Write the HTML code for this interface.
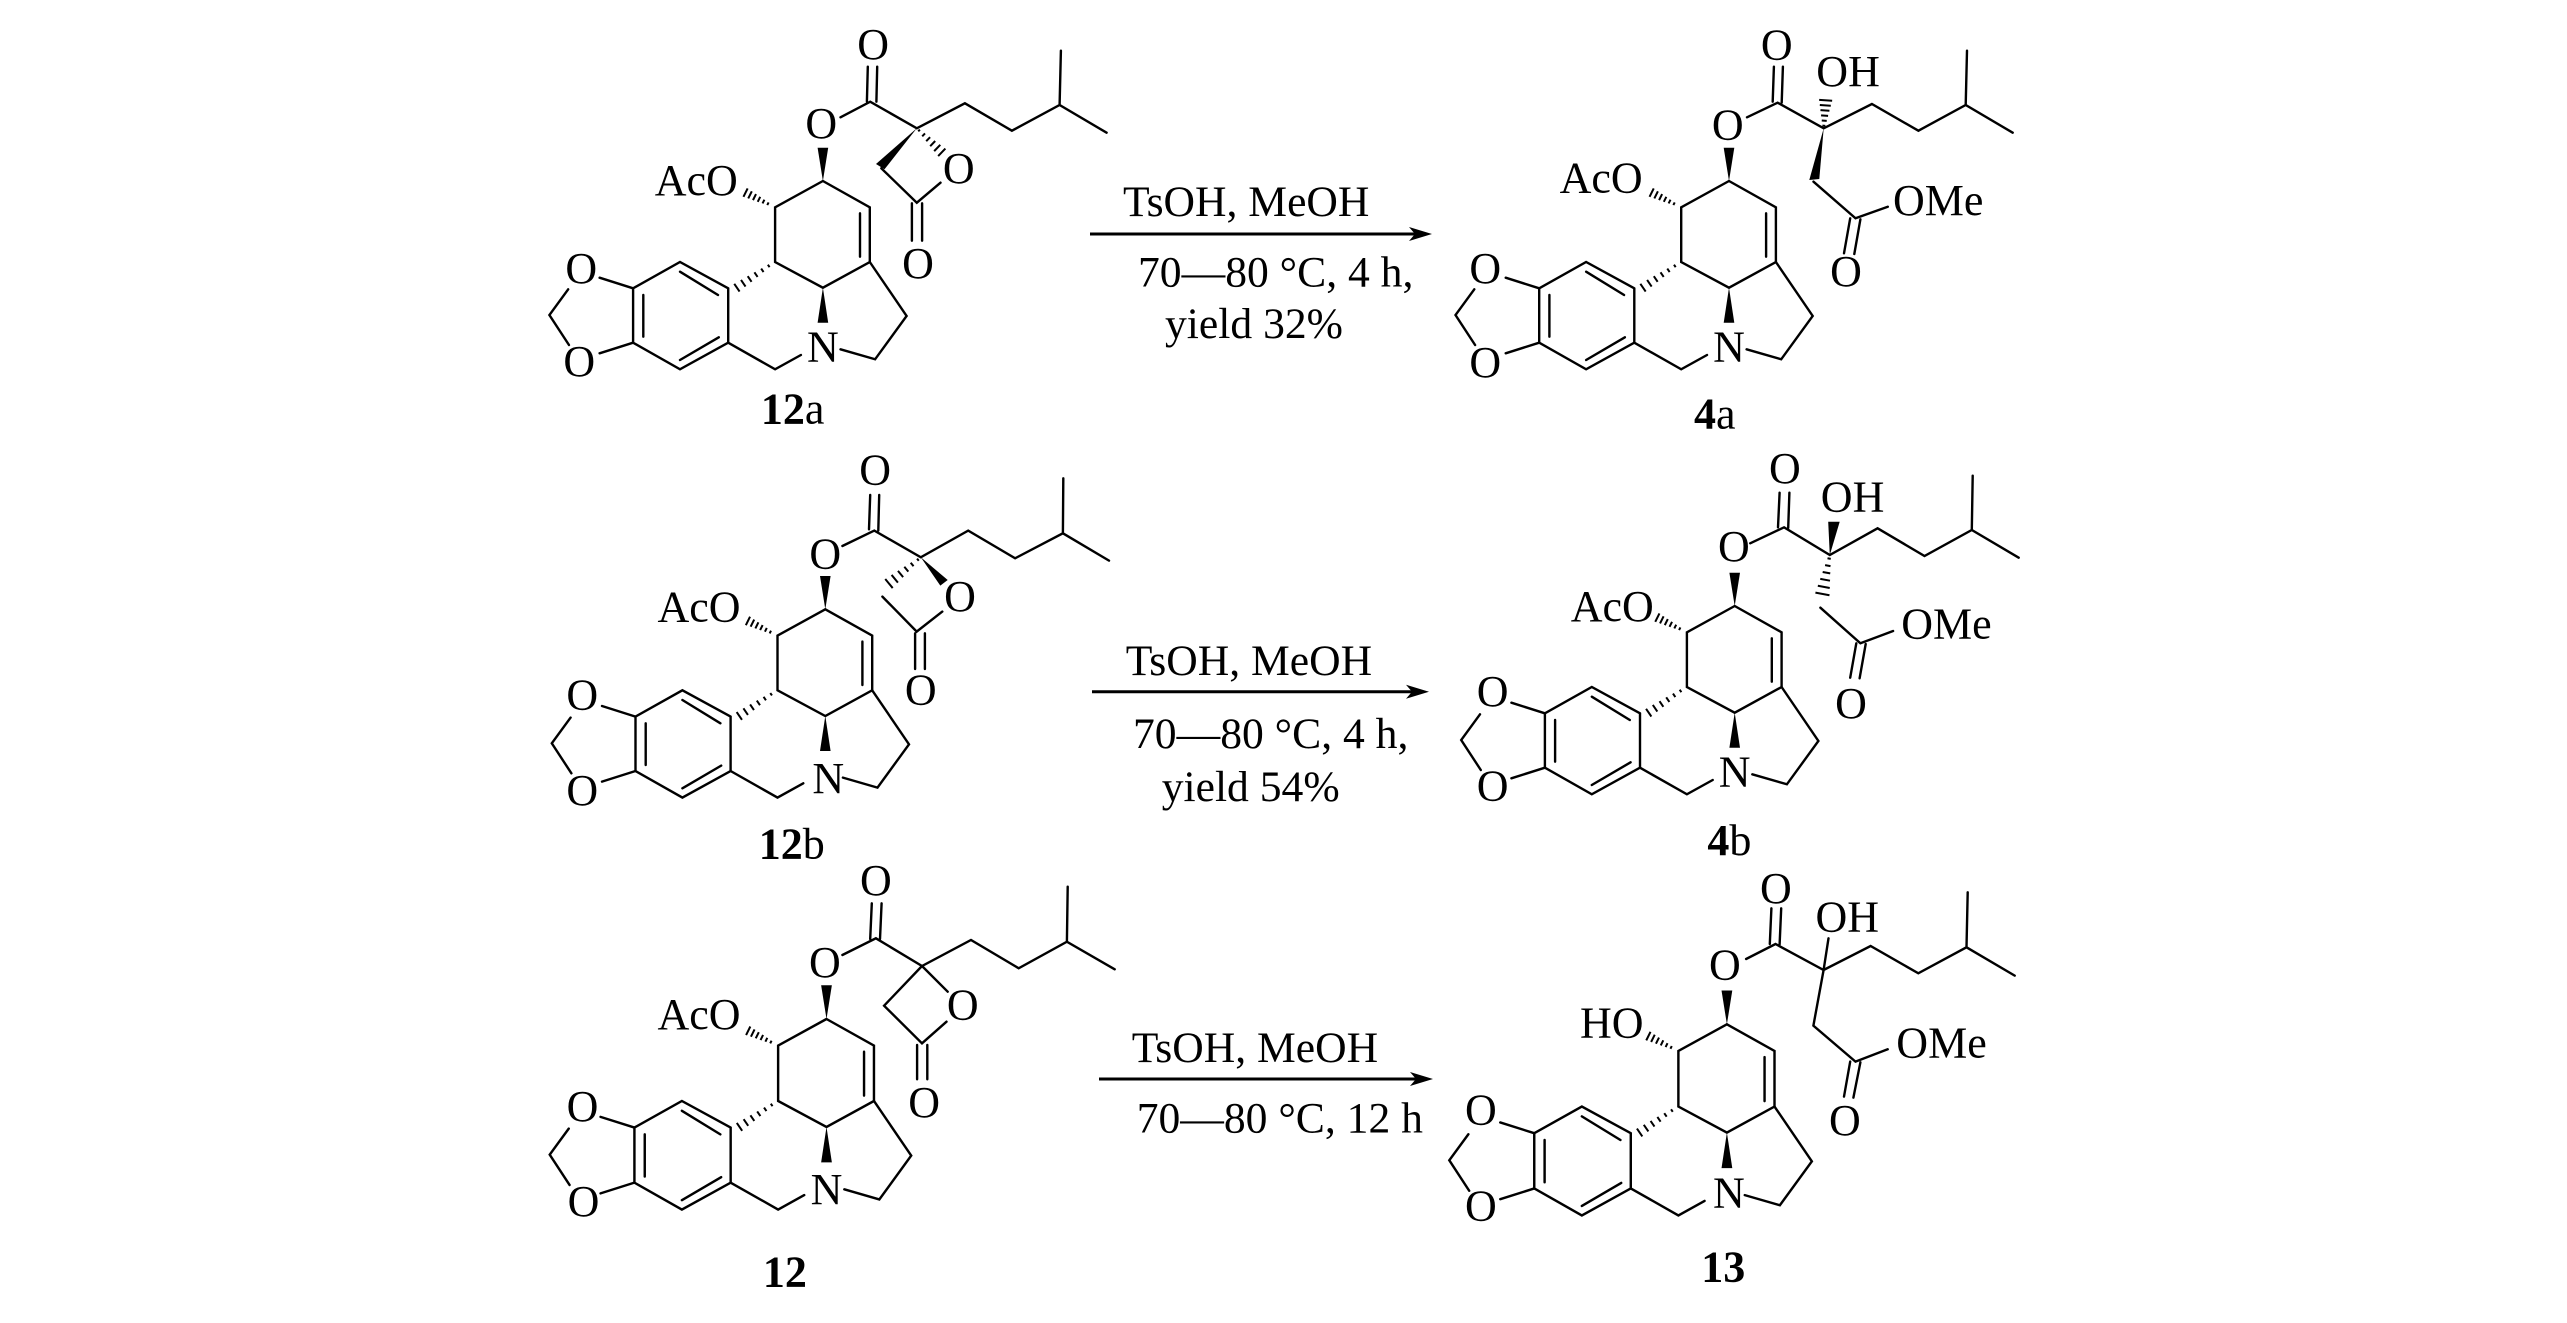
<!DOCTYPE html>
<html><head><meta charset="utf-8"><title>Reaction scheme</title>
<style>
html,body{margin:0;padding:0;background:#fff}
svg{display:block}
text{font-family:"Liberation Serif",serif;font-size:44px;fill:#000}
.r{font-size:43.6px}
.c{text-anchor:middle}
.b{fill:none;stroke:#000;stroke-width:2.4;stroke-linecap:round;stroke-linejoin:miter}
.h{fill:none;stroke:#000;stroke-width:2;vector-effect:non-scaling-stroke}
.k{font-weight:bold}
.a{stroke:#000;stroke-width:3;fill:none}
</style></head><body>
<svg width="2567" height="1323" viewBox="0 0 2567 1323" xmlns="http://www.w3.org/2000/svg">
<rect width="2567" height="1323" fill="#fff"/>
<defs>
<path id="h" class="h" d="M3-1.5V1.5M9-2.5V2.5M15-3.5V3.5M21-4.5V4.5M27-5.5V5.5M33-6.5V6.5"/>
<path id="hc" class="h" d="M8-1.5V1.5M13-2.1V2.1M18-2.8V2.8M23-3.4V3.4M28-4V4M33-4.7V4.7"/>
<path id="ah" d="M0 0L-23-7L-17 0L-23 7Z" fill="#000"/>
<g id="core">
<path class="b" d="M0 0L-47.8 26.3V81L0 106.7L46.9 81V26.3L0 0M37.1 32.3V75.7"/>
<path class="b" d="M-94.7 107.3L-142.9 81L-189.8 107.3V161.7L-142.9 188.3L-94.7 161.7V107.3M-104.9 114L-142.9 90.7M-179.6 114V155.7M-142.9 179L-104.1 156.3"/>
<path class="b" d="M-189.8 107.3L-223.3 96.7M-189.8 161.7L-223.3 172.3M-254.7 108.3L-273.5 134L-253.9 164"/>
<path class="b" d="M-94.7 161.7L-47.8 188.3L-22 174M17.6 168.3L52.2 178.3L83.7 135L46.9 81"/>
<polygon points="0,0 -5.3,-33.3 5.3,-33.3" fill="#000"/>
<polygon points="0,106.7 -5.3,141.7 5.3,141.7" fill="#000"/>
<use href="#hc" transform="translate(-47.8,26.3) rotate(206.4)"/>
<use href="#hc" transform="translate(-44,78) rotate(145.7) scale(1.54,1)"/>
</g>
</defs>

<!-- 12a -->
<g transform="translate(822.9,181)">
<use href="#core"/>
<path class="b" d="M17.6-63.7L47.3-79.3L93.9-52.7L142-77.7L189-50.3L236.7-76L283.7-48.3M236.7-76L238-130.3M44-79.5L44.9-114.3M53.5-79.3L54.3-114.3M58.4-12.7L93.9 21.7L117.6 1.7M89 22.3V59.7M99.2 22.3V59.7"/>
<polygon points="93.9,-52.7 53.1,-17 61.6,-11.7" fill="#000"/>
<use href="#h" transform="translate(93.9,-52.7) rotate(43.9) scale(1.05,.8)"/>
<text class="c" x="-241.6" y="101.8">O</text><text class="c" x="-243.7" y="195.2">O</text><text class="c" x="0" y="180.5">N</text>
<text class="c" x="-1.6" y="-43.2">O</text><text class="c" x="50.2" y="-122.2">O</text><text class="c" x="135.9" y="1.8">O</text><text class="c" x="95.1" y="96.8">O</text>
<text x="-168.2" y="14">AcO</text>
<text x="-62" y="242.3"><tspan class="k">12</tspan>a</text>
</g>

<!-- 4a -->
<g transform="translate(1729,181)">
<use href="#core"/>
<path class="b" d="M18-63.7L48.6-78.3L94.7-52.7L142.9-77L189.4-50.3L236.7-76L283.7-48.3M236.7-76L238-130.3M43.7-79.3L44.9-114.3M52.7-78.3L53.9-114.3M84.5 0.7L126.5 37.3L158.8 25.7M121.2 37.3L115 72.3M131.4 38.3L125.3 73"/>
<polygon points="94.7,-52.7 80.3,-1 90.3,-2" fill="#000"/>
<use href="#h" transform="translate(94.7,-52.7) rotate(-86) scale(.85,1)"/>
<text class="c" x="-243.7" y="101.8">O</text><text class="c" x="-243.7" y="196.2">O</text><text class="c" x="0" y="180.5">N</text>
<text class="c" x="-1.2" y="-41.5">O</text><text class="c" x="47.8" y="-121.5">O</text><text class="c" x="117" y="105.2">O</text>
<text x="87.3" y="-95">OH</text><text x="164" y="34">OMe</text>
<text x="-169.4" y="11.7">AcO</text>
<text x="-35" y="247.3"><tspan class="k">4</tspan>a</text>
</g>

<!-- 12b -->
<g transform="translate(825.3,609.3)">
<use href="#core"/>
<path class="b" d="M17.1-63.3L49-78.7L95.5-52L142.9-78.7L189.8-51L237.6-76L283.7-48.7M237.6-76L238-131M43.7-80L44.9-114.3M53-78.7L53.9-114.3M57.1-12.7L91.4 22.3L117 2.3M89.8 24V59.7M99.6 24V59.7"/>
<polygon points="95.5,-52 122.4,-29.3 115,-23.7" fill="#000"/>
<use href="#h" transform="translate(95.5,-52) rotate(140.5) scale(1.25,.9)"/>
<text class="c" x="-243" y="100.2">O</text><text class="c" x="-243" y="195.5">O</text><text class="c" x="2.9" y="183.5">N</text>
<text class="c" x="0" y="-40.8">O</text><text class="c" x="49.8" y="-124.8">O</text><text class="c" x="134.7" y="1.8">O</text><text class="c" x="95.5" y="95.2">O</text>
<text x="-167.8" y="12.3">AcO</text>
<text x="-66.5" y="249"><tspan class="k">12</tspan>b</text>
</g>

<!-- 4b -->
<g transform="translate(1734.7,606)">
<use href="#core"/>
<path class="b" d="M15.5-62.7L49.4-78.7L95.1-51L142.9-77.7L189.8-50L237.1-76L284-48.3M237.1-76L238-130.3M43.3-78.7L44.9-113.3M53.5-78L54.7-113.3M85.7 1.7L125.7 37.3L158.4 25M121.6 37.3L115.5 71.7M131 38L124.9 72.3"/>
<polygon points="95.1,-51 93.5,-84.3 105,-84.3" fill="#000"/>
<use href="#h" transform="translate(95.1,-51) rotate(100.7) scale(1.2,1.1)"/>
<text class="c" x="-242" y="100">O</text><text class="c" x="-242" y="194.5">O</text><text class="c" x="0" y="180.5">N</text>
<text class="c" x="-0.8" y="-44.8">O</text><text class="c" x="50.2" y="-123.2">O</text><text class="c" x="116.3" y="111.8">O</text>
<text x="86.1" y="-94.3">OH</text><text x="166.5" y="32.3">OMe</text>
<text x="-164" y="15">AcO</text>
<text x="-27.3" y="249"><tspan class="k">4</tspan>b</text>
</g>

<!-- 12 -->
<g transform="translate(826.5,1019)">
<use href="#core" transform="scale(1.012)"/>
<path class="b" d="M15.9-64L49.4-80.7L95.5-53L144.5-79L192.2-50.7L240.4-77.3L288.2-49.7M240.4-77.3L241.2-132.3M43.7-80L45.3-115.7M53.5-80L55.1-115.7M95.5-53L57.6-13.3L95.5 24.3L120 2.7M95.5-53L121.2-27.3M90.6 26V60.3M100.8 26V60.3"/>
<text class="c" x="-244" y="101.8">O</text><text class="c" x="-243" y="197">O</text><text class="c" x="0" y="185">N</text>
<text class="c" x="-1.6" y="-41.8">O</text><text class="c" x="49.4" y="-123.8">O</text><text class="c" x="136.3" y="0.5">O</text><text class="c" x="97.6" y="97.8">O</text>
<text x="-169" y="10">AcO</text>
<text x="-63.7" y="267.7" class="k">12</text>
</g>

<!-- 13 -->
<g transform="translate(1726.9,1024.3)">
<use href="#core" transform="scale(1.015)"/>
<path class="b" d="M19.2-65.3L48.6-80.3L96.7-54.3L143.7-78.3L191.4-51L239.6-77L287.8-48.7M239.6-77L240.8-132M42.9-80.3L44.5-116M52.7-79.7L54.3-116M96.7-54.3L101.6-86M96.7-54.3L86.5 1.3L128.6 37.3L160.8 25M123.3 37.3L117.1 72.3M133.5 38L126.5 73.3"/>
<text class="c" x="-246" y="100">O</text><text class="c" x="-246" y="196">O</text><text class="c" x="2" y="183">N</text>
<text class="c" x="-2" y="-44.8">O</text><text class="c" x="49" y="-121.5">O</text><text class="c" x="118" y="110.8">O</text>
<text x="88.6" y="-92.7">OH</text><text x="169.4" y="33.3">OMe</text>
<text x="-146.9" y="13.3">HO</text>
<text x="-25.7" y="257.3" class="k">13</text>
</g>

<!-- arrows -->
<path class="a" d="M1090 234H1420"/><use href="#ah" transform="translate(1432,234)"/>
<path class="a" d="M1092 691.7H1417"/><use href="#ah" transform="translate(1429,691.7)"/>
<path class="a" d="M1099 1079H1421"/><use href="#ah" transform="translate(1433,1079)"/>

<text class="r" x="1123" y="216">TsOH, MeOH</text>
<text class="r" x="1138" y="286.7">70—80 °C, 4 h,</text>
<text class="r" x="1165" y="338">yield 32%</text>

<text class="r" x="1125.7" y="675">TsOH, MeOH</text>
<text class="r" x="1133" y="748">70—80 °C, 4 h,</text>
<text class="r" x="1161.7" y="801">yield 54%</text>

<text class="r" x="1131.7" y="1062">TsOH, MeOH</text>
<text class="r" x="1136.7" y="1132.7">70—80 °C, 12 h</text>
</svg>
</body></html>
